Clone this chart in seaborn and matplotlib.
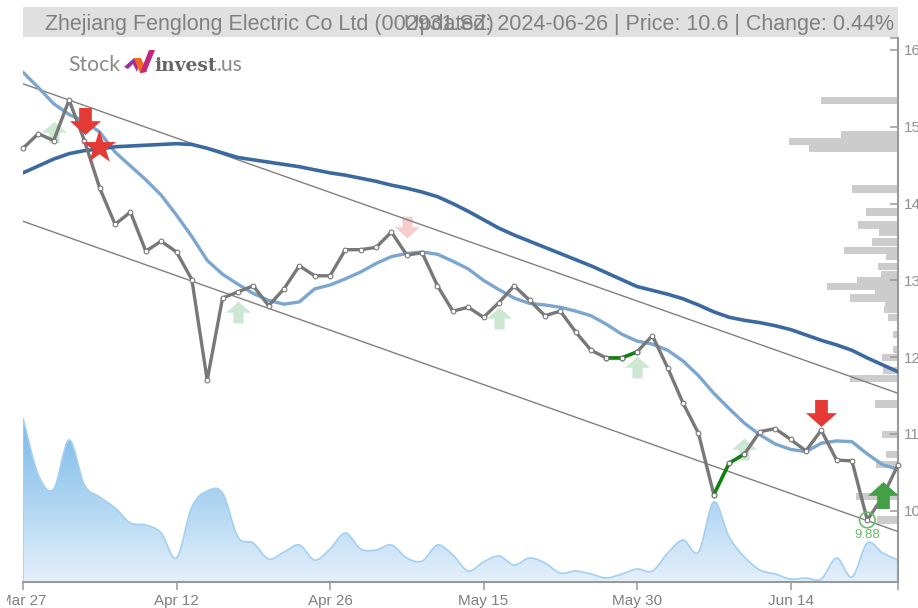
import numpy as np
import pandas as pd
import seaborn as sns
from matplotlib import pyplot as plt
from matplotlib.colors import LinearSegmentedColormap
from matplotlib.patches import PathPatch, Polygon, Rectangle
from matplotlib.path import Path
from matplotlib.transforms import Bbox

price = [14.72, 14.91, 14.82, 15.35, 14.82, 14.20, 13.73, 13.89, 13.38, 13.51,
         13.37, 13.01, 11.70, 12.77, 12.85, 12.93, 12.67, 12.89, 13.19, 13.06,
         13.06, 13.40, 13.40, 13.43, 13.63, 13.33, 13.36, 12.93, 12.60, 12.65,
         12.52, 12.71, 12.93, 12.74, 12.54, 12.60, 12.33, 12.09, 11.99, 11.99,
         12.07, 12.28, 11.86, 11.40, 11.01, 10.21, 10.62, 10.74, 11.03, 11.07,
         10.93, 10.78, 11.05, 10.66, 10.65, 9.88, 10.18, 10.60]
ma_short = [15.71, 15.51, 15.30, 15.16, 15.07, 14.93, 14.67, 14.49, 14.31, 14.11,
            13.85, 13.57, 13.26, 13.08, 12.95, 12.83, 12.74, 12.69, 12.72, 12.89,
            12.94, 13.02, 13.11, 13.22, 13.31, 13.35, 13.37, 13.34, 13.25, 13.15,
            13.00, 12.88, 12.77, 12.70, 12.68, 12.65, 12.60, 12.54, 12.43, 12.30,
            12.21, 12.17, 12.09, 11.95, 11.76, 11.53, 11.33, 11.14, 10.99, 10.87,
            10.80, 10.77, 10.88, 10.91, 10.90, 10.74, 10.60, 10.54]
ma_long = [14.40, 14.49, 14.58, 14.65, 14.69, 14.71, 14.74, 14.75, 14.76, 14.77,
           14.78, 14.77, 14.72, 14.66, 14.60, 14.57, 14.54, 14.51, 14.48, 14.44,
           14.40, 14.37, 14.33, 14.29, 14.24, 14.20, 14.15, 14.09, 14.00, 13.90,
           13.79, 13.68, 13.59, 13.51, 13.43, 13.35, 13.27, 13.19, 13.10, 13.01,
           12.92, 12.87, 12.82, 12.76, 12.68, 12.59, 12.52, 12.48, 12.45, 12.41,
           12.36, 12.29, 12.22, 12.16, 12.09, 11.99, 11.90, 11.81]
volume = [164, 107, 93, 142, 97, 85, 74, 59, 57, 49,
          24, 75, 91, 89, 45, 39, 23, 30, 37, 22,
          33, 49, 33, 32, 37, 24, 21, 37, 27, 11,
          20, 26, 17, 24, 19, 9, 11, 8, 4, 8,
          13, 11, 29, 42, 30, 80, 45, 25, 12, 8,
          3, 4, 3, 24, 5, 39, 29, 22]
days = list(range(len(price)))

tick_days = [0, 10, 20, 30, 40, 50, 57]
tick_labels = ["Mar 27", "Apr 12", "Apr 26", "May 15", "May 30", "Jun 14", ""]
price_ticks = [10, 11, 12, 13, 14, 15, 16]

channel_days = [0, 57]
channel_upper = [15.56, 11.53]
channel_lower = [13.77, 9.73]

profile_price = [15.34, 14.90, 14.81, 14.72, 14.19, 13.89, 13.72, 13.63, 13.50, 13.39,
                 13.31, 13.18, 13.08, 13.00, 12.92, 12.85, 12.77, 12.68, 12.62, 12.52,
                 12.30, 12.10, 12.00, 11.83, 11.72, 11.39, 10.99, 10.73, 10.60, 10.19, 9.88]
profile_size = [77, 57, 109, 89, 46, 32, 40, 19, 26, 54,
                12, 20, 17, 41, 71, 23, 48, 13, 14, 10,
                5, 5, 16, 15, 48, 23, 16, 12, 22, 42, 21]

sell_days = [4.05, 52]
sell_prices = [15.07, 11.27]
buy_days = [56]
buy_prices = [10.21]
star_days = [4.95]
star_prices = [14.74]
weak_buy_days = [2, 14, 31, 40, 47]
weak_buy_prices = [14.93, 12.59, 12.51, 11.87, 10.80]
weak_sell_days = [25]
weak_sell_prices = [13.70]
green_runs = [(38, 40), (45, 47)]
low_day = 55
low_price = 9.88

W, H = 918, 608
GRAY = "#999999"
LINE_GRAY = "#787878"

sns.set_style("white")
plt.rcParams["font.family"] = ["Liberation Sans", "DejaVu Sans"]

up_arrow = Path([(0, 0.87), (1, -0.02), (0.41, -0.02), (0.41, -0.87), (-0.41, -0.87),
                 (-0.41, -0.02), (-1, -0.02), (0, 0.87)], closed=True)
down_arrow = Path(up_arrow.vertices * [1, -1], closed=True)


def spline_path(xs, ys):
    # same look as the smoothed area of the original, one bezier per day
    pts = np.column_stack([xs, ys]).astype(float)
    prev = np.vstack([pts[0], pts[:-1]])
    nxt = np.vstack([pts[1:], pts[-1]])
    slope = (nxt - prev) / 6
    verts = [(xs[0], 0), pts[0]]
    codes = [Path.MOVETO, Path.LINETO]
    for i in range(len(pts) - 1):
        verts += [pts[i] + slope[i], pts[i + 1] - slope[i + 1], pts[i + 1]]
        codes += [Path.CURVE4] * 3
    verts += [(xs[-1], 0), (xs[0], 0)]
    codes += [Path.LINETO, Path.CLOSEPOLY]
    return Path(verts, codes)


def fx(x):
    return x / W


def fy(y):
    return 1 - y / H


fig = plt.figure(figsize=(W / 100, H / 100), dpi=100)
ax = fig.add_axes([fx(23), fy(582), (898 - 23) / W, (582 - 38) / H])
ax_vol = ax.twinx()
ax_prof = ax.twiny()
ax.set_zorder(3)
ax.patch.set_visible(False)
ax_vol.set_zorder(1)
ax_prof.set_zorder(2)
ax_prof.patch.set_visible(False)

# volume area with vertical gradient
area = spline_path(days, volume)
blues = LinearSegmentedColormap.from_list("vol", ["#e4f0fb", "#78b9e8"])
img = ax_vol.imshow(np.linspace(1, 0, 200).reshape(-1, 1), cmap=blues, aspect="auto",
                    extent=(0, 57, 0, 164), zorder=1)
img.set_clip_path(PathPatch(area, transform=ax_vol.transData))
ax_vol.add_patch(PathPatch(area, fc="none", ec="#a3d0f1", lw=1.2, zorder=2))
ax_vol.set_xlim(0, 57)
ax_vol.set_ylim(0, 544)
ax_vol.axis("off")

# volume by price, growing out of the right axis
ax_prof.barh(profile_price, profile_size, height=0.095, color="#cccccc", linewidth=0)
ax_prof.set_xlim(875, 0)
ax_prof.axis("off")

for values in [channel_upper, channel_lower]:
    sns.lineplot(x=channel_days, y=values, color="#808080", linewidth=1, ax=ax, zorder=3)

sns.scatterplot(x=weak_buy_days, y=weak_buy_prices, marker=up_arrow, s=324, color="#cde8d2",
                linewidth=0, ax=ax, zorder=2)
sns.scatterplot(x=weak_sell_days, y=weak_sell_prices, marker=down_arrow, s=324, color="#f8cccc",
                linewidth=0, ax=ax, zorder=2)

sns.lineplot(x=days, y=ma_short, color="#7ba6cf", linewidth=2.4, ax=ax, zorder=4)
sns.lineplot(x=days, y=ma_long, color="#3a6a9f", linewidth=2.6, ax=ax, zorder=4)

df = pd.DataFrame({"day": days, "price": price})
sns.lineplot(data=df, x="day", y="price", color=LINE_GRAY, linewidth=2.4, marker="o", markersize=3.4,
             markerfacecolor="white", markeredgecolor=LINE_GRAY, markeredgewidth=0.8,
             clip_on=False, ax=ax, zorder=5)
for start, end in green_runs:
    run = df[(df["day"] >= start) & (df["day"] <= end)]
    sns.lineplot(data=run, x="day", y="price", color="#0a860a", linewidth=2.4, ax=ax, zorder=6)
    sns.scatterplot(data=run, x="day", y="price", s=11, color="white", edgecolor=LINE_GRAY,
                    linewidth=0.8, ax=ax, zorder=7)

sns.scatterplot(x=sell_days, y=sell_prices, marker=down_arrow, s=498, color="#e53935",
                linewidth=0, ax=ax, zorder=8)
sns.scatterplot(x=star_days, y=star_prices, marker="*", s=640, color="#e53935",
                linewidth=0, ax=ax, zorder=8)
sns.scatterplot(x=buy_days, y=buy_prices, marker=up_arrow, s=498, color="#43a047",
                linewidth=0, ax=ax, zorder=8)

ax.scatter([low_day], [low_price], s=125, facecolors="none", edgecolors="#66bb6a", linewidths=1.2, zorder=8)
ax.annotate(f"{low_price:.2f}", (low_day, low_price), xytext=(0, -11), textcoords="offset points",
            ha="center", va="center", fontsize=9.5, color="#66bb6a", zorder=8)

ax.set_xlim(0, 57)
ax.set_ylim(9.073, 16.156)
ax.set(xlabel="", ylabel="")
ax.set_xticks(tick_days)
ax.set_xticklabels(tick_labels, fontsize=11, color="#808080")
ax.yaxis.tick_right()
ax.set_yticks(price_ticks)
ax.set_yticks([16.156], minor=True)
ax.set_yticklabels([str(p) for p in price_ticks], fontsize=11, color="#909090")
ax.tick_params(axis="x", length=5.8, width=1.1, color=GRAY, pad=2.5, bottom=True)
ax.tick_params(axis="y", which="both", direction="in", length=5.8, width=1.1, color=GRAY, pad=4, right=True)
for side in ["top", "left"]:
    ax.spines[side].set_visible(False)
for side in ["right", "bottom"]:
    ax.spines[side].set_color(GRAY)
    ax.spines[side].set_linewidth(1.5)
ax.xaxis.get_ticklabels()[0].set_clip_box(Bbox([[7, 0], [W, H]]))
ax.xaxis.get_ticklabels()[0].set_clip_on(True)

# title band, the two strings overlap in the original
fig.add_artist(Rectangle((fx(23), fy(37)), (898 - 23) / W, 30 / H, transform=fig.transFigure,
                         fc="#e0e0e0", ec="none", zorder=0))
fig.text(fx(45), fy(30), "Zhejiang Fenglong Electric Co Ltd (002931.SZ)", fontsize=15.5,
         color="#808080", va="baseline", ha="left")
fig.text(fx(404), fy(30), "Updated: 2024-06-26 | Price: 10.6 | Change: 0.44%", fontsize=15.5,
         color="#808080", va="baseline", ha="left")

# logo
fig.text(fx(68), fy(71), "Stock", fontsize=15.2, family="Lato", color="#8a8a8a", va="baseline")
fig.text(fx(154), fy(71), "invest", fontsize=13.5, family="DejaVu Serif", weight="bold", color="#666666", va="baseline")
fig.text(fx(217), fy(71), ".us", fontsize=15.2, family="Lato", color="#8a8a8a", va="baseline")
logo_shapes = [
    ([(124, 67), (134, 58), (141, 58), (137, 72), (133, 64), (128, 69)], "#a62c9c"),
    ([(134, 58), (141, 58), (147, 72), (140, 73)], "#f26a21"),
    ([(140, 73), (149, 50), (155, 50), (146, 72)], "#c4267f"),
]
for shape, colour in logo_shapes:
    fig.add_artist(Polygon([(fx(x), fy(y)) for x, y in shape], closed=True, transform=fig.transFigure,
                           fc=colour, ec="none"))

plt.savefig("out.png", dpi=100)
plt.close()
